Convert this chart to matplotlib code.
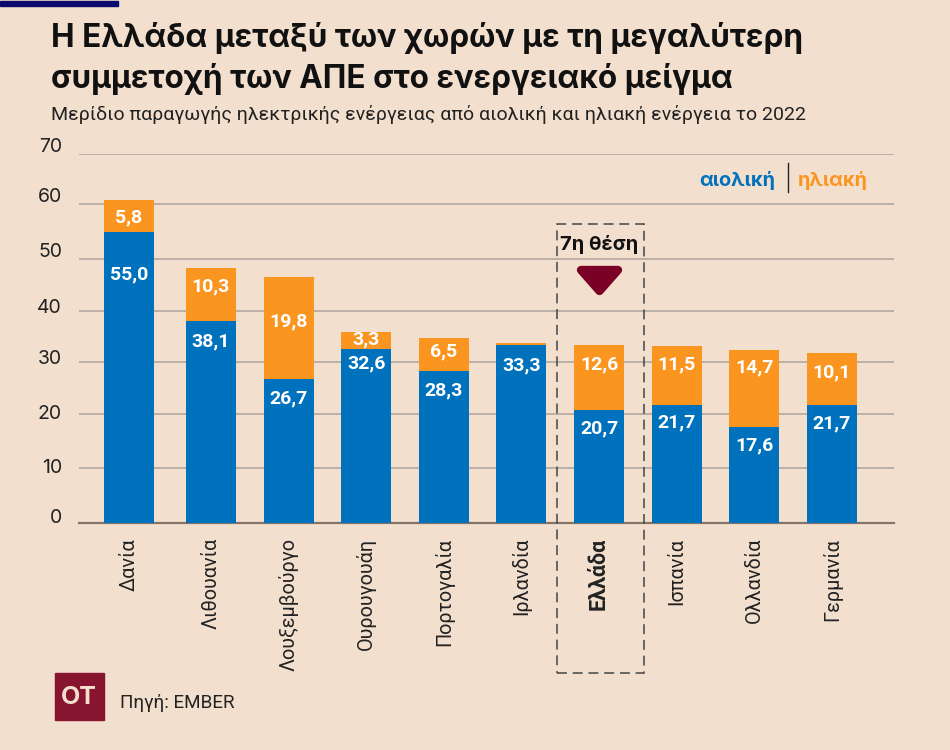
import matplotlib
matplotlib.use("Agg")
import matplotlib.pyplot as plt
from matplotlib.patches import Rectangle, Polygon
import numpy as np

plt.rcParams['font.family'] = ['Inter', 'DejaVu Sans']

countries = ["Δανία", "Λιθουανία", "Λουξεμβούργο", "Ουρουγουάη", "Πορτογαλία",
             "Ιρλανδία", "Ελλάδα", "Ισπανία", "Ολλανδία", "Γερμανία"]
wind = [55.0, 38.1, 26.7, 32.6, 28.3, 33.3, 20.7, 21.7, 17.6, 21.7]
solar = [5.8, 10.3, 19.8, 3.3, 6.5, 0.5, 12.6, 11.5, 14.7, 10.1]
yticks = [0, 10, 20, 30, 40, 50, 60, 70]

BG = "#f3dfce"
BLUE = "#0071bc"
ORANGE = "#fa9620"
MAROON = "#7a0026"
W, H = 950, 750
TOP, BASE = 153.7, 522.7

# the original's axis is hand drawn: gridlines are not evenly spaced (pixels)
grid_y = [522.7, 468.3, 414, 362.3, 310.7, 259.3, 204, 153.7]
grid_h = [BASE - g for g in grid_y]

# distance of the value labels below the top of their segment, in pixels
wind_off = [43, 21, 19, 15, 19, 20, 18, 17, 18, 18]
solar_off = [17, 19, 44, 8, 14, None, 19, 19, 17, 19]
# how far each y label sits above its gridline, in pixels
ylab_off = [5, 0, 0, 3, 3, 7, 7, 7]


def px(x, y):
    return x / W, 1 - y / H


def ftext(x, y, s, **kw):
    fx, fy = px(x, y)
    return fig.text(fx, fy, s, **kw)


def forward(v):
    return np.interp(v, yticks, grid_h)


def inverse(h):
    return np.interp(h, grid_h, yticks)


fig = plt.figure(figsize=(W / 100, H / 100), dpi=100, facecolor=BG)
ax = fig.add_axes([79 / W, 1 - BASE / H, (894 - 79) / W, (BASE - TOP) / H])
ax.set_facecolor(BG)
ax.set_yscale("function", functions=(forward, inverse))

# first bar sits a little further from the others in the original
x = np.arange(len(countries), dtype=float)
x[0] = -0.057
ax.bar(x, wind, width=0.645, color=BLUE, zorder=3)
ax.bar(x, solar, width=0.645, bottom=wind, color=ORANGE, zorder=3)

ax.set_xlim(-0.701, 9.80)
ax.set_ylim(0, 70)
ax.set_yticks(yticks)
ax.set_yticklabels([])
ax.minorticks_off()
ax.set_xticks(x)
ax.set_xticklabels(countries, rotation=90, fontsize=14.3, color="#222222",
                   family="Roboto")
ax.get_xticklabels()[6].set_fontweight("bold")
ax.get_xticklabels()[6].set_fontsize(15.5)
ax.tick_params(axis="x", length=0, pad=11)
ax.tick_params(axis="y", length=0)
ax.grid(axis="y", color="#b5ada5", lw=1.3, zorder=1)
for side in ["top", "right", "left"]:
    ax.spines[side].set_visible(False)
ax.spines["bottom"].set_color("#857468")
ax.spines["bottom"].set_linewidth(1.6)

for t, off in zip(yticks, ylab_off):
    ax.annotate(str(t), (0, t), xycoords=ax.get_yaxis_transform(),
                xytext=(-12.2, off * 0.72), textcoords="offset points",
                ha="right", va="center", fontsize=14, color="#222222",
                annotation_clip=False)

for i in range(len(countries)):
    ax.annotate(f"{wind[i]:.1f}".replace(".", ","), (x[i], wind[i]),
                xytext=(0, -wind_off[i] * 0.72), textcoords="offset points",
                ha="center", va="center", color="white", fontsize=14,
                fontweight="bold", zorder=5, family="Roboto")
    if solar_off[i] is not None:
        ax.annotate(f"{solar[i]:.1f}".replace(".", ","), (x[i], wind[i] + solar[i]),
                    xytext=(0, -solar_off[i] * 0.72), textcoords="offset points",
                    ha="center", va="center", color="white", fontsize=14,
                    fontweight="bold", zorder=5, family="Roboto")

# header
fig.patches.append(Rectangle(px(0, 6), 118 / W, 5 / H, transform=fig.transFigure,
                             color="#0a0a6e"))
ftext(51, 38, "Η Ελλάδα μεταξύ των χωρών με τη μεγαλύτερη", fontsize=22.7,
      fontweight="bold", color="#111111", va="center")
ftext(51, 79, "συμμετοχή των ΑΠΕ στο ενεργειακό μείγμα", fontsize=22.7,
      fontweight="bold", color="#111111", va="center")
ftext(51, 115, "Μερίδιο παραγωγής ηλεκτρικής ενέργειας από αιολική και ηλιακή ενέργεια το 2022",
      fontsize=14.0, color="#222222", va="center", family="Roboto")

# legend
ftext(699, 180, "αιολική", fontsize=14.3, fontweight="bold", color=BLUE, va="center")
ftext(798, 180, "ηλιακή", fontsize=14.3, fontweight="bold", color=ORANGE, va="center")
fig.add_artist(plt.Line2D([787.5 / W, 787.5 / W], [1 - 163 / H, 1 - 192 / H], color="#222222", lw=1))

# highlight box around Greece
fig.patches.append(Rectangle(px(557, 673), 87 / W, 449 / H, transform=fig.transFigure,
                             fill=False, ec="#444444", lw=1.1, ls=(0, (6.5, 3.8)), zorder=6))
ftext(599, 245, "7η θέση", fontsize=14.5, fontweight="bold", color="#111111",
      ha="center", va="center", zorder=7,
      bbox=dict(fc=BG, ec="none", pad=1.5))
fig.patches.append(Polygon([px(581, 270), px(618, 270), px(599.5, 291)], closed=True,
                           transform=fig.transFigure, fc=MAROON, ec=MAROON, lw=6,
                           joinstyle="round", zorder=6))

# logo and source
fig.patches.append(Rectangle(px(55, 720), 49 / W, 47 / H, transform=fig.transFigure,
                             color="#87152f"))
ftext(79, 697, "OT", fontsize=18, fontweight="bold", color="#f3dfce", ha="center", va="center")
ftext(120, 703, "Πηγή: EMBER", fontsize=13.6, color="#222222", va="center",
      family="Roboto")

fig.savefig("out.png", dpi=100, facecolor=BG)
